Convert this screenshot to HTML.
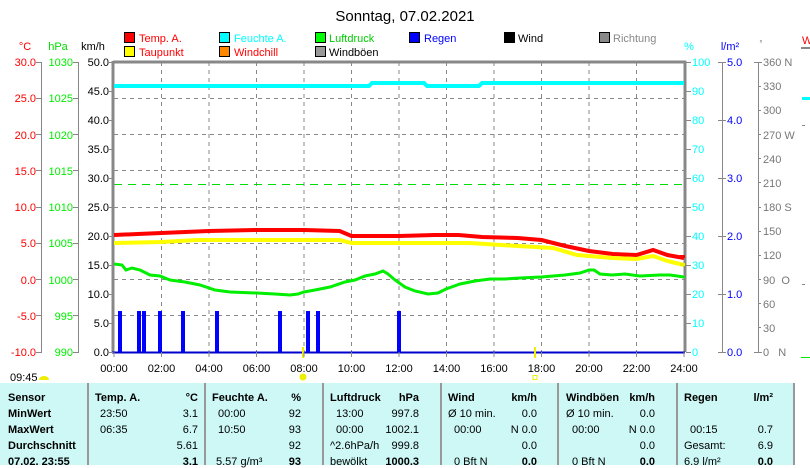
<!DOCTYPE html>
<html><head><meta charset="utf-8"><style>
body{margin:0;background:#fff;width:810px;height:465px;overflow:hidden;font-family:"Liberation Sans",sans-serif}
svg text{font-family:"Liberation Sans",sans-serif;font-size:11px}
.tb{position:absolute;left:0;top:383px;width:795px;height:82px;background:#cdf8f6;font-size:11px}
.tb div{position:absolute;white-space:nowrap}
.b{font-weight:bold}
.r{text-align:right}
.vl{position:absolute;top:0;width:2px;height:82px;background:#999}
</style></head><body>
<svg width="810" height="465" style="position:absolute;left:0;top:0">
<text x="405" y="21" text-anchor="middle" style="font-size:15px">Sonntag, 07.02.2021</text>
<!-- legend -->
<g stroke="#000" stroke-width="1">
<rect x="124.5" y="32.5" width="10" height="10" fill="#f00"/>
<rect x="124.5" y="46.5" width="10" height="10" fill="#ff0"/>
<rect x="219.5" y="32.5" width="10" height="10" fill="#0ff"/>
<rect x="219.5" y="46.5" width="10" height="10" fill="#f80"/>
<rect x="315.5" y="32.5" width="10" height="10" fill="#0f0"/>
<rect x="315.5" y="46.5" width="10" height="10" fill="#999"/>
<rect x="409.5" y="32.5" width="10" height="10" fill="#00f"/>
<rect x="504.5" y="32.5" width="10" height="10" fill="#000"/>
<rect x="599.5" y="32.5" width="10" height="10" fill="#888"/>
</g>
<text x="139" y="42" fill="#f00">Temp. A.</text>
<text x="139" y="56" fill="#f00">Taupunkt</text>
<text x="234" y="42" fill="#0ff">Feuchte A.</text>
<text x="234" y="56" fill="#f00">Windchill</text>
<text x="329" y="42" fill="#0c0">Luftdruck</text>
<text x="329" y="56" fill="#000">Windböen</text>
<text x="424" y="42" fill="#00f">Regen</text>
<text x="518" y="42" fill="#000">Wind</text>
<text x="613" y="42" fill="#888">Richtung</text>
<!-- axis titles -->
<text x="25" y="50" text-anchor="middle" fill="#f00">°C</text>
<text x="58" y="50" text-anchor="middle" fill="#0d0">hPa</text>
<text x="93" y="50" text-anchor="middle" fill="#000">km/h</text>
<text x="689" y="50" text-anchor="middle" fill="#0ff">%</text>
<text x="730" y="50" text-anchor="middle" fill="#00f">l/m²</text>
<text x="761" y="46" text-anchor="middle" fill="#777" style="font-size:8px">°</text>
<text x="802" y="44" fill="#f00">W</text>
<line x1="801" y1="48" x2="810" y2="48" stroke="#888" stroke-width="2"/>
<line x1="802" y1="98.5" x2="810" y2="98.5" stroke="#0ff" stroke-width="3"/>
<!-- grid -->
<g stroke="#888" stroke-dasharray="4,4" stroke-width="1">
<line x1="161.5" y1="62" x2="161.5" y2="352"/><line x1="209" y1="62" x2="209" y2="352"/><line x1="256.5" y1="62" x2="256.5" y2="352"/><line x1="304" y1="62" x2="304" y2="352"/><line x1="351.5" y1="62" x2="351.5" y2="352"/><line x1="399" y1="62" x2="399" y2="352"/><line x1="446.5" y1="62" x2="446.5" y2="352"/><line x1="494" y1="62" x2="494" y2="352"/><line x1="541.5" y1="62" x2="541.5" y2="352"/><line x1="589" y1="62" x2="589" y2="352"/><line x1="636.5" y1="62" x2="636.5" y2="352"/>
<line x1="114" y1="98.5" x2="684" y2="98.5"/><line x1="114" y1="134.5" x2="684" y2="134.5"/><line x1="114" y1="170.5" x2="684" y2="170.5"/><line x1="114" y1="207.5" x2="684" y2="207.5"/><line x1="114" y1="243.5" x2="684" y2="243.5"/><line x1="114" y1="279.5" x2="684" y2="279.5"/><line x1="114" y1="315.5" x2="684" y2="315.5"/>
</g>
<line x1="114" y1="184.5" x2="684" y2="184.5" stroke="#0d0" stroke-dasharray="8,6" stroke-width="1"/>
<!-- frame -->
<line x1="113" y1="62" x2="686" y2="62" stroke="#888" stroke-width="3"/>
<line x1="113" y1="61" x2="113" y2="352" stroke="#888" stroke-width="3"/>
<line x1="685" y1="61" x2="685" y2="352" stroke="#888" stroke-width="3"/>
<line x1="112" y1="352.5" x2="685" y2="352.5" stroke="#00c" stroke-width="2"/>
<!-- series -->
<polyline fill="none" stroke="#0ff" stroke-width="4" points="114,86 369,86 372,83 424,83 427,86 479,86 482,83 684,83"/>
<polyline fill="none" stroke="#f00" stroke-width="4" points="114,235 137.75,234 161.5,233 209,231 256.5,230 304,230 339.6,231 351.5,236 399,236 434.6,235 458.4,235 482.1,237 517.75,238 541.5,240 565.25,246 589,251 612.75,254 636.5,255 653.1,250 667.4,255 684,258"/>
<polyline fill="none" stroke="#ff0" stroke-width="4" points="114,243 161.5,242 197,240 339.6,240 351.5,243 470,243 517.75,246 553,248 577,255 612.75,258 636.5,259 653.1,256 667.4,261 684,265"/>
<polyline fill="none" stroke="#0e0" stroke-width="3" points="114,264 122,265 126,270 132,268 140,270 150,275 160,276 170,280 185,282 200,285 215,290 230,292 256.5,293 275,294 290,295 298,294 304,292 315,290 330,287 345,282 355,280 365,276 375,274 383,271 388,274 395,280 405,287 415,291 428,294 438,293 446,289 460,284 475,281 490,279 505,279 520,278 541.5,277 565,275 580,273 589,270 594,270 600,274 612,275 625,274 640,276 660,275 670,275 684,277"/>
<g fill="#00f">
<rect x="118" y="311" width="4" height="41"/><rect x="137" y="311" width="4" height="41"/><rect x="142" y="311" width="4" height="41"/><rect x="158" y="311" width="4" height="41"/><rect x="181" y="311" width="4" height="41"/><rect x="215" y="311" width="4" height="41"/><rect x="278" y="311" width="4" height="41"/><rect x="306" y="311" width="4" height="41"/><rect x="316" y="311" width="4" height="41"/><rect x="397" y="311" width="4" height="41"/>
</g>
<line x1="303" y1="347" x2="303" y2="358" stroke="#ee0" stroke-width="2"/>
<line x1="535" y1="347" x2="535" y2="358" stroke="#ee0" stroke-width="2"/>
<circle cx="303" cy="377" r="3.5" fill="#ee0"/>
<rect x="533" y="375.5" width="4" height="4" fill="none" stroke="#ee0"/>
<path d="M39,380 a5,4 0 0 1 10,0z" fill="#ee0"/>
<text x="10" y="381">09:45</text>
<!-- side markers -->
<rect x="680" y="255" width="5" height="3" fill="#f00"/><rect x="680" y="263" width="5" height="3" fill="#ee0"/><rect x="680" y="276" width="5" height="2" fill="#0e0"/>
<!-- left axes -->
<g stroke="#888" stroke-width="1">
<line x1="41.5" y1="62" x2="41.5" y2="352"/><line x1="78.5" y1="62" x2="78.5" y2="352"/>
<line x1="722.5" y1="62" x2="722.5" y2="352"/><line x1="758.5" y1="62" x2="758.5" y2="352"/>
</g>
<g id="tl" style="font-size:11.5px">
<text x="36" y="66" text-anchor="end" fill="#f00">30.0</text><text x="36" y="102" text-anchor="end" fill="#f00">25.0</text><text x="36" y="139" text-anchor="end" fill="#f00">20.0</text><text x="36" y="175" text-anchor="end" fill="#f00">15.0</text><text x="36" y="211" text-anchor="end" fill="#f00">10.0</text><text x="36" y="247" text-anchor="end" fill="#f00">5.0</text><text x="36" y="284" text-anchor="end" fill="#f00">0.0</text><text x="36" y="320" text-anchor="end" fill="#f00">-5.0</text><text x="36" y="356" text-anchor="end" fill="#f00">-10.0</text>
<text x="73" y="66" text-anchor="end" fill="#0e0">1030</text><text x="73" y="102" text-anchor="end" fill="#0e0">1025</text><text x="73" y="139" text-anchor="end" fill="#0e0">1020</text><text x="73" y="175" text-anchor="end" fill="#0e0">1015</text><text x="73" y="211" text-anchor="end" fill="#0e0">1010</text><text x="73" y="247" text-anchor="end" fill="#0e0">1005</text><text x="73" y="284" text-anchor="end" fill="#0e0">1000</text><text x="73" y="320" text-anchor="end" fill="#0e0">995</text><text x="73" y="356" text-anchor="end" fill="#0e0">990</text>
<text x="109" y="66" text-anchor="end">50.0</text><text x="109" y="95" text-anchor="end">45.0</text><text x="109" y="124" text-anchor="end">40.0</text><text x="109" y="153" text-anchor="end">35.0</text><text x="109" y="182" text-anchor="end">30.0</text><text x="109" y="211" text-anchor="end">25.0</text><text x="109" y="240" text-anchor="end">20.0</text><text x="109" y="269" text-anchor="end">15.0</text><text x="109" y="298" text-anchor="end">10.0</text><text x="109" y="327" text-anchor="end">5.0</text><text x="109" y="356" text-anchor="end">0.0</text>
<text x="692" y="66" fill="#0ff">100</text><text x="692" y="95" fill="#0ff">90</text><text x="692" y="124" fill="#0ff">80</text><text x="692" y="153" fill="#0ff">70</text><text x="692" y="182" fill="#0ff">60</text><text x="692" y="211" fill="#0ff">50</text><text x="692" y="240" fill="#0ff">40</text><text x="692" y="269" fill="#0ff">30</text><text x="692" y="298" fill="#0ff">20</text><text x="692" y="327" fill="#0ff">10</text><text x="692" y="356" fill="#0ff">0</text>
<text x="727" y="66" fill="#00f">5.0</text><text x="727" y="124" fill="#00f">4.0</text><text x="727" y="182" fill="#00f">3.0</text><text x="727" y="240" fill="#00f">2.0</text><text x="727" y="298" fill="#00f">1.0</text><text x="727" y="356" fill="#00f">0.0</text>
<g fill="#777"><text x="763" y="66">360 N</text><text x="763" y="90">330</text><text x="763" y="114">300</text><text x="763" y="139">270 W</text><text x="763" y="163">240</text><text x="763" y="187">210</text><text x="763" y="211">180 S</text><text x="763" y="235">150</text><text x="763" y="259">120</text><text x="763" y="284">90&#160; O</text><text x="763" y="308">60</text><text x="763" y="332">30</text><text x="763" y="356">0&#160;&#160; N</text></g>
</g>
<g stroke="#888"><path d="M36,62.5h6M36,98.5h6M36,134.5h6M36,170.5h6M36,207.5h6M36,243.5h6M36,279.5h6M36,315.5h6M36,352.5h6M73,62.5h6M73,98.5h6M73,134.5h6M73,170.5h6M73,207.5h6M73,243.5h6M73,279.5h6M73,315.5h6M73,352.5h6M108,62.5h5M108,91.5h5M108,120.5h5M108,149.5h5M108,178.5h5M108,207.5h5M108,236.5h5M108,265.5h5M108,294.5h5M108,323.5h5M108,352.5h5M686,62.5h5M686,91.5h5M686,120.5h5M686,149.5h5M686,178.5h5M686,207.5h5M686,236.5h5M686,265.5h5M686,294.5h5M686,323.5h5M686,352.5h5M718,62.5h8M718,120.5h8M718,178.5h8M718,236.5h8M718,294.5h8M718,352.5h8M754,62.5h8M758,86.5h3M758,110.5h3M758,134.5h3M758,158.5h3M758,182.5h3M758,207.5h3M758,231.5h3M758,255.5h3M758,279.5h3M758,303.5h3M758,327.5h3M754,352.5h8M802,125.5h3M802,284.5h3"/>
<path d="M114,352v5M161.5,352v5M209,352v5M256.5,352v5M304,352v5M351.5,352v5M399,352v5M446.5,352v5M494,352v5M541.5,352v5M589,352v5M636.5,352v5M684,352v5"/></g>
<line x1="801" y1="357.5" x2="810" y2="357.5" stroke="#0e0"/>
<g text-anchor="middle" style="font-size:11.5px"><text x="114" y="372">00:00</text><text x="161.5" y="372">02:00</text><text x="209" y="372">04:00</text><text x="256.5" y="372">06:00</text><text x="304" y="372">08:00</text><text x="351.5" y="372">10:00</text><text x="399" y="372">12:00</text><text x="446.5" y="372">14:00</text><text x="494" y="372">16:00</text><text x="541.5" y="372">18:00</text><text x="589" y="372">20:00</text><text x="636.5" y="372">22:00</text><text x="684" y="372">24:00</text></g>
</svg>
<div class="tb">
<div class="vl" style="left:87px"></div><div class="vl" style="left:204px"></div><div class="vl" style="left:322px"></div><div class="vl" style="left:440px"></div><div class="vl" style="left:557px"></div><div class="vl" style="left:676px"></div><div class="vl" style="left:793px"></div>
<div class="b" style="left:8px;top:9px">Sensor</div><div class="b" style="left:8px;top:25px">MinWert</div><div class="b" style="left:8px;top:41px">MaxWert</div><div class="b" style="left:8px;top:57px">Durchschnitt</div><div class="b" style="left:8px;top:73px">07.02. 23:55</div>
<div class="b" style="left:95px;top:9px">Temp. A.</div><div class="b r" style="right:597px;top:9px">°C</div>
<div style="left:100px;top:25px">23:50</div><div class="r" style="right:597px;top:25px">3.1</div>
<div style="left:100px;top:41px">06:35</div><div class="r" style="right:597px;top:41px">6.7</div>
<div class="r" style="right:597px;top:57px">5.61</div><div class="b r" style="right:597px;top:73px">3.1</div>
<div class="b" style="left:212px;top:9px">Feuchte A.</div><div class="b r" style="right:494px;top:9px">%</div>
<div style="left:218px;top:25px">00:00</div><div class="r" style="right:494px;top:25px">92</div>
<div style="left:218px;top:41px">10:50</div><div class="r" style="right:494px;top:41px">93</div>
<div class="r" style="right:494px;top:57px">92</div><div style="left:216px;top:73px">5.57 g/m³</div><div class="b r" style="right:494px;top:73px">93</div>
<div class="b" style="left:330px;top:9px">Luftdruck</div><div class="b r" style="right:376px;top:9px">hPa</div>
<div style="left:336px;top:25px">13:00</div><div class="r" style="right:376px;top:25px">997.8</div>
<div style="left:336px;top:41px">00:00</div><div class="r" style="right:376px;top:41px">1002.1</div>
<div style="left:330px;top:57px">^2.6hPa/h</div><div class="r" style="right:376px;top:57px">999.8</div>
<div style="left:330px;top:73px">bewölkt</div><div class="b r" style="right:376px;top:73px">1000.3</div>
<div class="b" style="left:448px;top:9px">Wind</div><div class="b r" style="right:258px;top:9px">km/h</div>
<div style="left:448px;top:25px">Ø 10 min.</div><div class="r" style="right:258px;top:25px">0.0</div>
<div style="left:454px;top:41px">00:00</div><div class="r" style="right:258px;top:41px">N 0.0</div>
<div class="r" style="right:258px;top:57px">0.0</div><div style="left:454px;top:73px">0 Bft N</div><div class="b r" style="right:258px;top:73px">0.0</div>
<div class="b" style="left:566px;top:9px">Windböen</div><div class="b r" style="right:140px;top:9px">km/h</div>
<div style="left:566px;top:25px">Ø 10 min.</div><div class="r" style="right:140px;top:25px">0.0</div>
<div style="left:572px;top:41px">00:00</div><div class="r" style="right:140px;top:41px">N 0.0</div>
<div class="r" style="right:140px;top:57px">0.0</div><div style="left:572px;top:73px">0 Bft N</div><div class="b r" style="right:140px;top:73px">0.0</div>
<div class="b" style="left:684px;top:9px">Regen</div><div class="b r" style="right:22px;top:9px">l/m²</div>
<div style="left:690px;top:41px">00:15</div><div class="r" style="right:22px;top:41px">0.7</div>
<div style="left:684px;top:57px">Gesamt:</div><div class="r" style="right:22px;top:57px">6.9</div>
<div style="left:684px;top:73px">6.9 l/m²</div><div class="b r" style="right:22px;top:73px">0.0</div>
</div>
</body></html>
